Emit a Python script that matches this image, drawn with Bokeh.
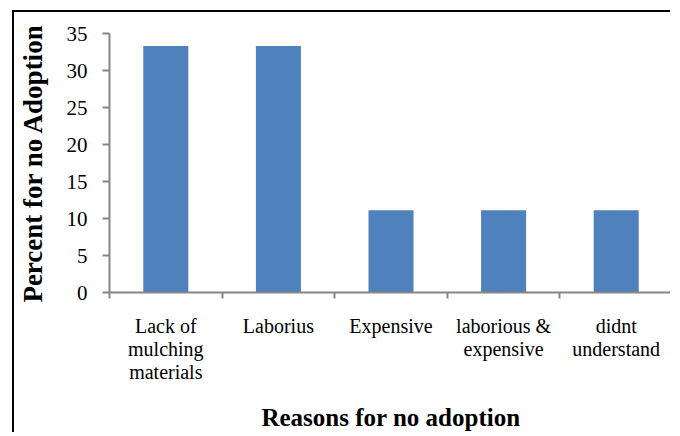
from bokeh.plotting import figure
from bokeh.models import ColumnDataSource, FixedTicker, Range1d
from bokeh.embed import file_html
from bokeh.resources import INLINE

categories = ["Lack of\nmulching\nmaterials", "Laborius", "Expensive",
              "laborious &\nexpensive", "didnt\nunderstand"]
values = [33.3, 33.3, 11.1, 11.1, 11.1]
y_ticks = [0, 5, 10, 15, 20, 25, 30, 35]

xs = [i + 0.5 for i in range(len(categories))]
src = ColumnDataSource(dict(x=xs, top=values))

p = figure(width=658, height=422, output_backend="svg", toolbar_location=None,
           x_range=Range1d(0, len(categories)), y_range=Range1d(0, 35))
p.margin = (10, 0, 0, 12)
p.styles = {"border-left": "2px solid black", "border-top": "2px solid black"}
p.min_border_left = 94
p.min_border_right = 0
p.min_border_top = 21
p.min_border_bottom = 142
p.outline_line_color = None
p.background_fill_color = "white"
p.border_fill_color = "white"
p.grid.visible = False

p.vbar(x="x", top="top", width=0.4, source=src, fill_color="#4F81BD",
       line_color=None)

FONT = "Liberation Serif"
AX = "#868686"

ya = p.yaxis[0]
ya.ticker = FixedTicker(ticks=y_ticks, minor_ticks=[])
ya.axis_line_color = AX
ya.axis_line_width = 2
ya.major_tick_line_color = AX
ya.major_tick_line_width = 2
ya.major_tick_out = 7
ya.major_tick_in = 0
ya.minor_tick_line_color = None
ya.major_label_text_font = FONT
ya.major_label_text_font_size = "21px"
ya.major_label_text_color = "black"
ya.major_label_standoff = 15
ya.axis_label = "Percent for no Adoption"
ya.axis_label_text_font = FONT
ya.axis_label_text_font_style = "bold"
ya.axis_label_text_font_size = "27px"
ya.axis_label_text_line_height = 1.0
ya.axis_label_text_color = "black"
ya.axis_label_standoff = 16

xa = p.xaxis[0]
xa.ticker = FixedTicker(ticks=xs, minor_ticks=list(range(len(categories) + 1)))
xa.major_label_overrides = {x: c for x, c in zip(xs, categories)}
xa.axis_line_color = AX
xa.axis_line_width = 2
xa.major_tick_line_color = None
xa.major_tick_out = 6
xa.major_tick_in = 0
xa.minor_tick_line_color = AX
xa.minor_tick_line_width = 2
xa.minor_tick_out = 6
xa.minor_tick_in = 0
xa.major_label_text_font = FONT
xa.major_label_text_font_size = "20px"
xa.major_label_text_line_height = 1.05
xa.major_label_text_color = "black"
xa.major_label_standoff = 16
xa.axis_label = "Reasons for no adoption"
xa.axis_label_text_font = FONT
xa.axis_label_text_font_style = "bold"
xa.axis_label_text_font_size = "25px"
xa.axis_label_text_line_height = 1.0
xa.axis_label_text_color = "black"
xa.axis_label_standoff = 18

open("out.html", "w").write(file_html(p, INLINE))
